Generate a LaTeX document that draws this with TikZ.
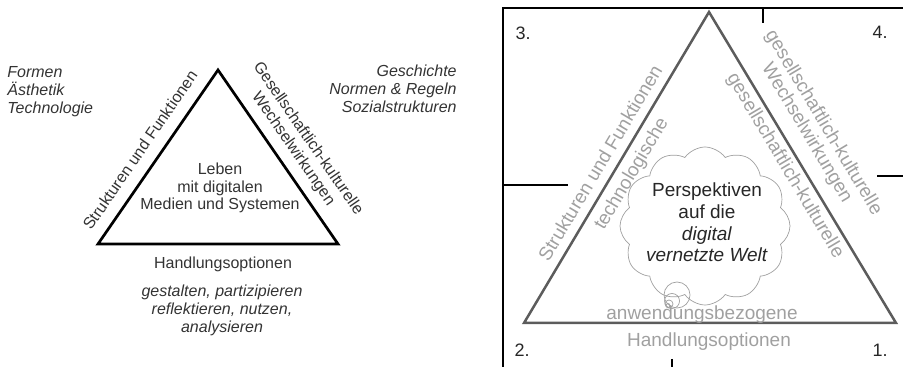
\documentclass[tikz,border=0pt]{standalone}
\usepackage{fontspec}
\setmainfont{Liberation Sans}
\usetikzlibrary{shapes.symbols}
\definecolor{txt}{HTML}{333333}
\definecolor{lgray}{HTML}{A0A0A0}
\definecolor{dgray}{HTML}{5C5C5C}
\begin{document}
\begin{tikzpicture}[x=0.5pt, y=-0.5pt,
    lbl/.style ={text=txt, font=\fontsize{8}{9}\selectfont, align=center, inner sep=0pt},
    ilbl/.style={lbl, font=\fontsize{8}{9}\selectfont\itshape},
    gtxt/.style={text=lgray, font=\fontsize{9.5}{9.75}\selectfont, align=center, inner sep=0pt},
    num/.style ={text=black!85, font=\fontsize{9}{10}\selectfont, inner sep=0pt},
    frame/.style={line width=1.45pt},
    thin/.style ={draw=lgray, line width=0.35pt},
  ]
  \clip (0,0) rectangle (903,367);

  % left triangle
  \coordinate (A) at (218,70);
  \coordinate (L) at (98,244);
  \coordinate (R) at (338,244);
  \draw[line width=1.35pt] (A) -- (L) -- (R) -- cycle;
  \node[ilbl, align=left, anchor=west] (forms) at (7,92) {Formen\\Ästhetik\\Technologie};
  \node[ilbl, align=right, anchor=east] (hist) at (457,89) {Geschichte\\Normen \& Regeln\\Sozialstrukturen};
  \node[lbl, rotate=55.4] (struct) at (140,150) {Strukturen und Funktionen};
  \node[lbl, rotate=-55.4] (gesell) at (300.5,144) {Gesellschaftlich-kulturelle\\Wechselwirkungen};
  \node[lbl, font=\fontsize{8}{8.75}\selectfont] (leben) at (220,188) {Leben\\mit digitalen\\Medien und Systemen};
  \node[lbl] (hand) at (223,264) {Handlungsoptionen};
  \node[ilbl] (verbs) at (222,310) {gestalten, partizipieren\\reflektieren, nutzen,\hspace*{1.2em}\\analysieren};

  % right frame with quadrants
  \draw[frame] (503,8) rectangle (920,380);
  \draw[frame] (763,8) -- (763,23);
  \draw[frame] (503,185) -- (568,185);
  \draw[frame] (877,176) -- (903,176);
  \draw[frame] (672,359) -- (672,367);
  \node[num] (n3) at (523,33) {3.};
  \node[num] (n4) at (880,32) {4.};
  \node[num] (n2) at (522,350) {2.};
  \node[num] (n1) at (880,350) {1.};

  % right triangle
  \coordinate (T) at (709,12);
  \coordinate (P) at (524,323);
  \coordinate (Q) at (896,323);
  \draw[dgray, line width=1.25pt] (T) -- (P) -- (Q) -- cycle;
  \node[gtxt, rotate=59.25] (rstruct) at (600,163) {Strukturen und Funktionen};
  \node[gtxt, rotate=59.25] (techno) at (632,174) {technologische};
  \node[gtxt, rotate=-59.25] (rgesell) at (815,128) {gesellschaftlich-kulturelle\\Wechselwirkungen};
  \node[gtxt, rotate=-59.25] (igesell) at (785,166) {gesellschaftlich-kulturelle};
  \node[gtxt] (anw) at (702,315) {anwendungsbezogene};
  \node[gtxt] (rhand) at (709,342) {Handlungsoptionen};

  % thought cloud
  \node[cloud, thin, cloud puffs=12, cloud puff arc=110, cloud ignores aspect,
    minimum width=85pt, minimum height=79pt] (cl) at (705,226) {};
  \draw[thin] (677,295) circle[radius=13];
  \draw[thin] (672,301) circle[radius=7.5];
  \draw[thin] (669,304) circle[radius=4];
  \draw[thin] (668,305.5) circle[radius=2];
  \node[text=black!85, font=\fontsize{9.5}{10.85}\selectfont, align=center, inner sep=0pt] (persp) at (707,222.5)
    {Perspektiven\\auf die\\\textit{digital}\\\textit{vernetzte Welt}};
\end{tikzpicture}
\end{document}
